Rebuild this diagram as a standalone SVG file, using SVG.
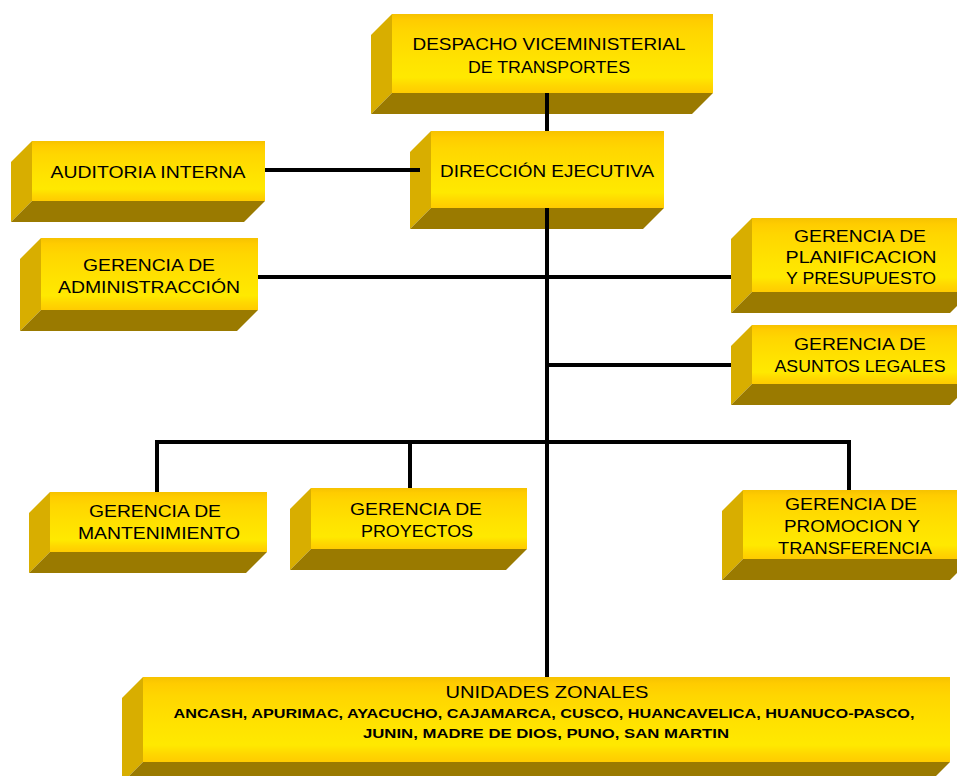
<svg xmlns="http://www.w3.org/2000/svg" width="957" height="776" viewBox="0 0 957 776">
  <defs>
    <linearGradient id="faceGrad" x1="0" y1="0" x2="0" y2="1">
      <stop offset="0" stop-color="#F6C200"/>
      <stop offset="0.08" stop-color="#FFCC00"/>
      <stop offset="0.22" stop-color="#FFD600"/>
      <stop offset="0.55" stop-color="#FFE200"/>
      <stop offset="0.8" stop-color="#FFE900"/>
      <stop offset="0.9" stop-color="#FFD800"/>
      <stop offset="1" stop-color="#FFCB00"/>
    </linearGradient>
    <style>
      .front { fill: url(#faceGrad); }
      .side { fill: #D8AE00; }
      .base { fill: #9A7A00; }
      .lbl { font-family: "Liberation Sans", Arial, sans-serif; font-size: 17px; fill: #000; text-anchor: middle; }
      .small { font-family: "Liberation Sans", Arial, sans-serif; font-size: 13px; font-weight: bold; fill: #000; text-anchor: middle; }
      .wire { stroke: #000; stroke-width: 4; fill: none; stroke-linecap: butt; }
    </style>
  </defs>

  <rect width="957" height="776" fill="#FFFFFF"/>

  <!-- each box: left face, bottom face, front face (depth 21) -->
  <g id="despacho">
    <polygon class="side" points="392,14 371,35 371,114 392,93"/>
    <polygon class="base" points="392,93 713,93 692,114 371,114"/>
    <rect class="front" x="392" y="14" width="321" height="79"/>
    <text class="lbl" x="549" y="50" textLength="273" lengthAdjust="spacingAndGlyphs">DESPACHO VICEMINISTERIAL</text>
    <text class="lbl" x="549" y="73" textLength="162" lengthAdjust="spacingAndGlyphs">DE TRANSPORTES</text>
  </g>

  <g id="direccion">
    <polygon class="side" points="431,131 410,152 410,229 431,208"/>
    <polygon class="base" points="431,208 664,208 643,229 410,229"/>
    <rect class="front" x="431" y="131" width="233" height="77"/>
    <text class="lbl" x="547" y="177" textLength="214" lengthAdjust="spacingAndGlyphs">DIRECCIÓN EJECUTIVA</text>
  </g>

  <g id="auditoria">
    <polygon class="side" points="32,141 11,162 11,222 32,201"/>
    <polygon class="base" points="32,201 265,201 244,222 11,222"/>
    <rect class="front" x="32" y="141" width="233" height="60"/>
    <text class="lbl" x="148" y="178" textLength="195" lengthAdjust="spacingAndGlyphs">AUDITORIA INTERNA</text>
  </g>

  <g id="administracion">
    <polygon class="side" points="41,238 20,259 20,331 41,310"/>
    <polygon class="base" points="41,310 258,310 237,331 20,331"/>
    <rect class="front" x="41" y="238" width="217" height="72"/>
    <text class="lbl" x="149" y="271" textLength="132" lengthAdjust="spacingAndGlyphs">GERENCIA  DE</text>
    <text class="lbl" x="149" y="293" textLength="182" lengthAdjust="spacingAndGlyphs">ADMINISTRACCIÓN</text>
  </g>

  <g id="planificacion">
    <polygon class="side" points="752,218 731,239 731,313 752,292"/>
    <polygon class="base" points="752,292 971,292 950,313 731,313"/>
    <rect class="front" x="752" y="218" width="219" height="74"/>
    <text class="lbl" x="860" y="242" textLength="132" lengthAdjust="spacingAndGlyphs">GERENCIA  DE</text>
    <text class="lbl" x="861" y="263" textLength="151" lengthAdjust="spacingAndGlyphs">PLANIFICACION</text>
    <text class="lbl" x="861" y="284" textLength="150" lengthAdjust="spacingAndGlyphs">Y PRESUPUESTO</text>
  </g>

  <g id="legales">
    <polygon class="side" points="752,325 731,346 731,405 752,384"/>
    <polygon class="base" points="752,384 971,384 950,405 731,405"/>
    <rect class="front" x="752" y="325" width="219" height="59"/>
    <text class="lbl" x="860" y="350" textLength="132" lengthAdjust="spacingAndGlyphs">GERENCIA  DE</text>
    <text class="lbl" x="860" y="372" textLength="171" lengthAdjust="spacingAndGlyphs">ASUNTOS LEGALES</text>
  </g>

  <g id="mantenimiento">
    <polygon class="side" points="50,492 29,513 29,573 50,552"/>
    <polygon class="base" points="50,552 267,552 246,573 29,573"/>
    <rect class="front" x="50" y="492" width="217" height="60"/>
    <text class="lbl" x="155" y="517" textLength="132" lengthAdjust="spacingAndGlyphs">GERENCIA  DE</text>
    <text class="lbl" x="159" y="539" textLength="162" lengthAdjust="spacingAndGlyphs">MANTENIMIENTO</text>
  </g>

  <g id="proyectos">
    <polygon class="side" points="311,488 290,509 290,570 311,549"/>
    <polygon class="base" points="311,549 527,549 506,570 290,570"/>
    <rect class="front" x="311" y="488" width="216" height="61"/>
    <text class="lbl" x="416" y="515" textLength="132" lengthAdjust="spacingAndGlyphs">GERENCIA  DE</text>
    <text class="lbl" x="417" y="537" textLength="112" lengthAdjust="spacingAndGlyphs">PROYECTOS</text>
  </g>

  <g id="promocion">
    <polygon class="side" points="743,490 722,511 722,580 743,559"/>
    <polygon class="base" points="743,559 971,559 950,580 722,580"/>
    <rect class="front" x="743" y="490" width="228" height="69"/>
    <text class="lbl" x="851" y="510" textLength="132" lengthAdjust="spacingAndGlyphs">GERENCIA  DE</text>
    <text class="lbl" x="852" y="532" textLength="136" lengthAdjust="spacingAndGlyphs">PROMOCION Y</text>
    <text class="lbl" x="855" y="554" textLength="154" lengthAdjust="spacingAndGlyphs">TRANSFERENCIA</text>
  </g>

  <g id="unidades">
    <polygon class="side" points="143,677 122,698 122,783 143,762"/>
    <polygon class="base" points="143,762 950,762 929,783 122,783"/>
    <rect class="front" x="143" y="677" width="807" height="85"/>
    <text class="lbl" x="547" y="698" textLength="203" lengthAdjust="spacingAndGlyphs">UNIDADES ZONALES</text>
    <text class="small" x="544" y="718" textLength="741" lengthAdjust="spacingAndGlyphs">ANCASH, APURIMAC, AYACUCHO, CAJAMARCA, CUSCO, HUANCAVELICA, HUANUCO-PASCO,</text>
    <text class="small" x="546" y="738" textLength="366" lengthAdjust="spacingAndGlyphs">JUNIN, MADRE DE DIOS, PUNO, SAN MARTIN</text>
  </g>

  <!-- connectors, drawn over the box bevels -->
  <g id="connectors">
    <line class="wire" x1="547" y1="93" x2="547" y2="131"/>
    <line class="wire" x1="265" y1="170" x2="420" y2="170"/>
    <line class="wire" x1="547" y1="208" x2="547" y2="677"/>
    <line class="wire" x1="258" y1="277" x2="731" y2="277"/>
    <line class="wire" x1="547" y1="365" x2="731" y2="365"/>
    <line class="wire" x1="155" y1="442" x2="851" y2="442"/>
    <line class="wire" x1="157" y1="440" x2="157" y2="492"/>
    <line class="wire" x1="410" y1="440" x2="410" y2="488"/>
    <line class="wire" x1="849" y1="440" x2="849" y2="490"/>
  </g>
</svg>
